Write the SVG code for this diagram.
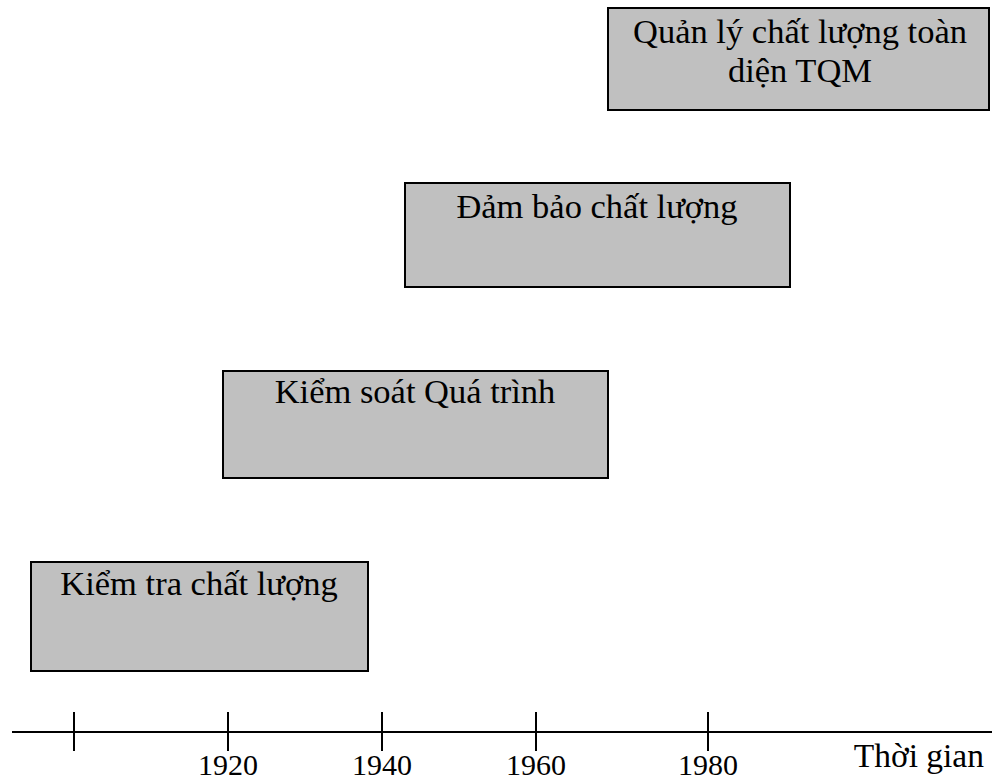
<svg xmlns="http://www.w3.org/2000/svg" width="992" height="783" viewBox="0 0 992 783">
  <style>
    .box { fill: #c0c0c0; stroke: #000; stroke-width: 2; }
    .lbl { font-family: "Liberation Serif", "Times New Roman", serif; font-size: 34.5px; fill: #000; text-anchor: middle; }
    .yr { font-family: "Liberation Serif", "Times New Roman", serif; font-size: 30px; fill: #000; text-anchor: middle; }
    .axis { stroke: #000; stroke-width: 2; fill: none; }
  </style>
  <rect width="992" height="783" fill="#fff"/>

  <g id="tqm">
    <rect class="box" x="608" y="8" width="381" height="102"/>
    <text class="lbl" x="800" y="43">Quản lý chất lượng toàn</text>
    <text class="lbl" x="800" y="82">diện TQM</text>
  </g>

  <g id="dam-bao">
    <rect class="box" x="405" y="183" width="385" height="104"/>
    <text class="lbl" x="597" y="218">Đảm bảo chất lượng</text>
  </g>

  <g id="kiem-soat">
    <rect class="box" x="223" y="371" width="385" height="107"/>
    <text class="lbl" x="415" y="403">Kiểm soát Quá trình</text>
  </g>

  <g id="kiem-tra">
    <rect class="box" x="31" y="562" width="337" height="109"/>
    <text class="lbl" x="199" y="595">Kiểm tra chất lượng</text>
  </g>

  <g id="timeline">
    <line class="axis" x1="12" y1="732" x2="992" y2="732"/>
    <line class="axis" x1="74" y1="712" x2="74" y2="751"/>
    <line class="axis" x1="228" y1="712" x2="228" y2="751"/>
    <line class="axis" x1="382" y1="712" x2="382" y2="751"/>
    <line class="axis" x1="536" y1="712" x2="536" y2="751"/>
    <line class="axis" x1="708" y1="712" x2="708" y2="751"/>
    <text class="yr" x="228" y="775">1920</text>
    <text class="yr" x="382" y="775">1940</text>
    <text class="yr" x="536" y="775">1960</text>
    <text class="yr" x="708" y="775">1980</text>
    <text class="lbl" x="984" y="767" style="font-size:33.5px;text-anchor:end">Thời gian</text>
  </g>
</svg>
